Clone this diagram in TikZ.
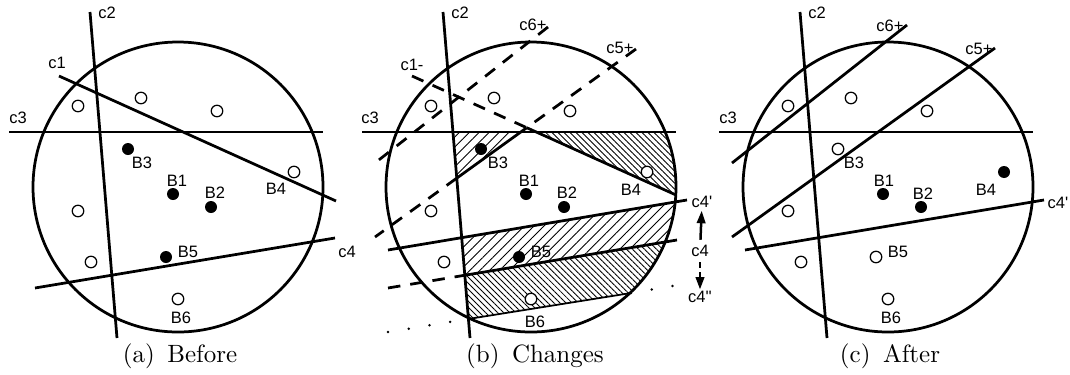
\documentclass[tikz,border=0pt]{standalone}
\usepackage{fontspec}
\newfontfamily\lblfont{Liberation Sans}[Ligatures=TeXOff]
\usetikzlibrary{arrows.meta,patterns.meta}

\tikzset{
  cut/.style={line width=1.1pt},
  cutdash/.style={cut,dash pattern=on 5pt off 4pt},
  cutdot/.style={cut,dash pattern=on 0pt off 8.4pt,line cap=round},
  edge/.style={line width=0.7pt},
  bopen/.style={circle,draw,fill=white,line width=0.5pt,inner sep=0pt,minimum size=4.6pt},
  bfull/.style={circle,fill,inner sep=0pt,minimum size=4.8pt},
  lbl/.style={font=\lblfont\fontsize{6.6}{8}\selectfont,inner sep=0pt},
  capt/.style={font=\fontsize{10}{12}\selectfont,inner sep=0pt},
  hatchw/.style={pattern={Lines[angle=45,distance=2.8pt,line width=0.35pt]}},
  hatchn/.style={pattern={Lines[angle=-45,distance=1.7pt,line width=0.35pt]}},
}
% the region, in the coordinates of one panel
\newcommand{\blobpath}{(178,187) circle[radius=145]}

\begin{document}
\begin{tikzpicture}[x=0.4pt,y=-0.4pt,>={Triangle[width=3.4pt,length=5pt]}]
\useasboundingbox (0,0) rectangle (1070,374);

% (a) before
\begin{scope}
  \draw[cut] \blobpath;
  \coordinate (a1s) at (59,76);  \coordinate (a1e) at (336,201);
  \coordinate (a2s) at (90,12);  \coordinate (a2e) at (117,338);
  \coordinate (a3s) at (9,132);  \coordinate (a3e) at (323,132);
  \coordinate (a4s) at (35,288); \coordinate (a4e) at (335,238);
  \draw[cut] (a1s) -- (a1e);
  \draw[cut] (a2s) -- (a2e);
  \draw[cut] (a3s) -- (a3e);
  \draw[cut] (a4s) -- (a4e);
  \node[lbl] (ac1) at (57,63) {c1};
  \node[lbl] (ac2) at (107,13) {c2};
  \node[lbl] (ac3) at (18,118) {c3};
  \node[lbl] (ac4) at (347,252) {c4};
  \foreach \x/\y [count=\i] in {78/106,141/98,217/111,78/211,91/262}
    \node[bopen] (ao\i) at (\x,\y) {};
  \node[bfull] (aB1) at (173,194) {};
  \node[bfull] (aB2) at (211,207) {};
  \node[bfull] (aB3) at (128,149) {};
  \node[bopen] (aB4) at (294,172) {};
  \node[bfull] (aB5) at (166,257) {};
  \node[bopen] (aB6) at (178,299) {};
  \node[lbl] (aL1) at (177,181) {B1};
  \node[lbl] (aL2) at (215,193) {B2};
  \node[lbl] (aL3) at (142,163) {B3};
  \node[lbl] (aL4) at (276,189) {B4};
  \node[lbl] (aL5) at (188,252) {B5};
  \node[lbl] (aL6) at (181,318) {B6};
  \node[capt] (capa) at (180,356) {(a)\enspace Before};
\end{scope}

% (b) changes
\begin{scope}[shift={(353,0)}]
  \coordinate (b1s) at (59,76);   \coordinate (b1e) at (323,195);
  \coordinate (b2s) at (90,12);   \coordinate (b2e) at (117,338);
  \coordinate (b3s) at (9,132);   \coordinate (b3e) at (323,132);
  \coordinate (b4s) at (35,288);  \coordinate (b4e) at (324,240);
  \coordinate (b4ps) at (35,250); \coordinate (b4pe) at (334,200);
  \coordinate (b4qs) at (35,332); \coordinate (b4qe) at (325,285);
  \coordinate (b4qc) at (278,293);
  \coordinate (b5s) at (283,49);  \coordinate (b5e) at (22,237);
  \coordinate (b6s) at (195,27);  \coordinate (b6e) at (22,163);
  \coordinate (bxt) at (345,0);   \coordinate (bxb) at (345,400);
  \coordinate (b23) at (intersection of b2s--b2e and b3s--b3e);
  \coordinate (b35) at (intersection of b3s--b3e and b5s--b5e);
  \coordinate (b25) at (intersection of b2s--b2e and b5s--b5e);
  \coordinate (b15) at (intersection of b1s--b1e and b5s--b5e);
  \coordinate (b13) at (intersection of b1s--b1e and b3s--b3e);
  \coordinate (b24) at (intersection of b2s--b2e and b4s--b4e);
  \coordinate (b24p) at (intersection of b2s--b2e and b4ps--b4pe);
  \coordinate (b24q) at (intersection of b2s--b2e and b4qs--b4qe);
  \coordinate (bx1) at (intersection of b1s--b1e and bxt--bxb);
  \coordinate (bx3) at (intersection of b3s--b3e and bxt--bxb);
  \coordinate (bx4) at (intersection of b4s--b4e and bxt--bxb);
  \coordinate (bx4p) at (intersection of b4ps--b4pe and bxt--bxb);
  \coordinate (bx4q) at (intersection of b4qs--b4qe and bxt--bxb);
  \fill[hatchw] (b23) -- (b35) -- (b25) -- cycle;
  \begin{scope}
    \clip \blobpath;
    \fill[hatchn] (b13) -- (bx3) -- (bx1) -- cycle;
    \fill[hatchw] (b24p) -- (bx4p) -- (bx4) -- (b24) -- cycle;
    \fill[hatchn] (b24) -- (bx4) -- (bx4q) -- (b24q) -- cycle;
  \end{scope}
  \draw[cut] \blobpath;
  \draw[cut] (b2s) -- (b2e);
  \draw[cut] (b3s) -- (b3e);
  \draw[cutdash] (b1s) -- (b15);
  \draw[cut] (b15) -- (b1e);
  \draw[cutdash] (b5s) -- (b15);
  \draw[cut] (b15) -- (b25);
  \draw[cutdash] (b25) -- (b5e);
  \draw[cutdash] (b6s) -- (b6e);
  \draw[cut] (b4ps) -- (b4pe);
  \draw[cutdash] (b4s) -- (b24);
  \draw[cut] (b24) -- (b4e);
  \draw[cutdot] (b4qs) -- (b24q);
  \draw[edge] (b24q) -- (b4qc);
  \draw[cutdot] (b4qc) -- (b4qe);
  \node[lbl] (bc1) at (59,65) {c1-};
  \node[lbl] (bc2) at (107,13) {c2};
  \node[lbl] (bc3) at (17,118) {c3};
  \node[lbl] (bc5) at (267,48) {c5+};
  \node[lbl] (bc6) at (180,25) {c6+};
  \node[lbl] (bc4p) at (349,202) {c4'};
  \node[lbl] (bc4) at (347,251) {c4};
  \node[lbl] (bc4q) at (347,297) {c4''};
  \draw[line width=1pt,->,shorten <=2pt,shorten >=1pt] (bc4) -- (bc4p);
  \draw[line width=1pt,->,dash pattern=on 2.4pt off 1.6pt,shorten <=2pt,shorten >=0.5pt] (bc4) -- (bc4q);
  \foreach \x/\y [count=\i] in {78/106,141/98,217/111,78/211,91/262}
    \node[bopen] (bo\i) at (\x,\y) {};
  \node[bfull] (bB1) at (173,194) {};
  \node[bfull] (bB2) at (211,207) {};
  \node[bfull] (bB3) at (128,149) {};
  \node[bopen] (bB4) at (294,172) {};
  \node[bfull] (bB5) at (166,257) {};
  \node[bopen] (bB6) at (178,299) {};
  \node[lbl] (bL1) at (176,181) {B1};
  \node[lbl] (bL2) at (214,193) {B2};
  \node[lbl] (bL3) at (145,163) {B3};
  \node[lbl] (bL4) at (278,190) {B4};
  \node[lbl] (bL5) at (188,252) {B5};
  \node[lbl] (bL6) at (182,322) {B6};
  \node[capt] (capb) at (182,356) {(b)\enspace Changes};
\end{scope}

% (c) after
\begin{scope}[shift={(710,0)}]
  \draw[cut] \blobpath;
  \coordinate (c2s) at (90,12);   \coordinate (c2e) at (117,338);
  \coordinate (c3s) at (9,132);   \coordinate (c3e) at (323,132);
  \coordinate (c4ps) at (35,250); \coordinate (c4pe) at (334,200);
  \coordinate (c5s) at (285,48);  \coordinate (c5e) at (22,237);
  \coordinate (c6s) at (197,25);  \coordinate (c6e) at (22,163);
  \draw[cut] (c2s) -- (c2e);
  \draw[cut] (c3s) -- (c3e);
  \draw[cut] (c4ps) -- (c4pe);
  \draw[cut] (c5s) -- (c5e);
  \draw[cut] (c6s) -- (c6e);
  \node[lbl] (cc2) at (107,13) {c2};
  \node[lbl] (cc3) at (18,118) {c3};
  \node[lbl] (cc4p) at (348,203) {c4'};
  \node[lbl] (cc5) at (269,49) {c5+};
  \node[lbl] (cc6) at (180,26) {c6+};
  \foreach \x/\y [count=\i] in {78/106,141/98,217/111,78/211,91/262}
    \node[bopen] (co\i) at (\x,\y) {};
  \node[bfull] (cB1) at (173,194) {};
  \node[bfull] (cB2) at (211,207) {};
  \node[bopen] (cB3) at (128,149) {};
  \node[bfull] (cB4) at (294,172) {};
  \node[bopen] (cB5) at (166,257) {};
  \node[bopen] (cB6) at (178,299) {};
  \node[lbl] (cL1) at (174,181) {B1};
  \node[lbl] (cL2) at (213,194) {B2};
  \node[lbl] (cL3) at (144,163) {B3};
  \node[lbl] (cL4) at (276,190) {B4};
  \node[lbl] (cL5) at (188,252) {B5};
  \node[lbl] (cL6) at (181,318) {B6};
  \node[capt] (capc) at (180,356) {(c)\enspace After};
\end{scope}
\end{tikzpicture}
\end{document}
